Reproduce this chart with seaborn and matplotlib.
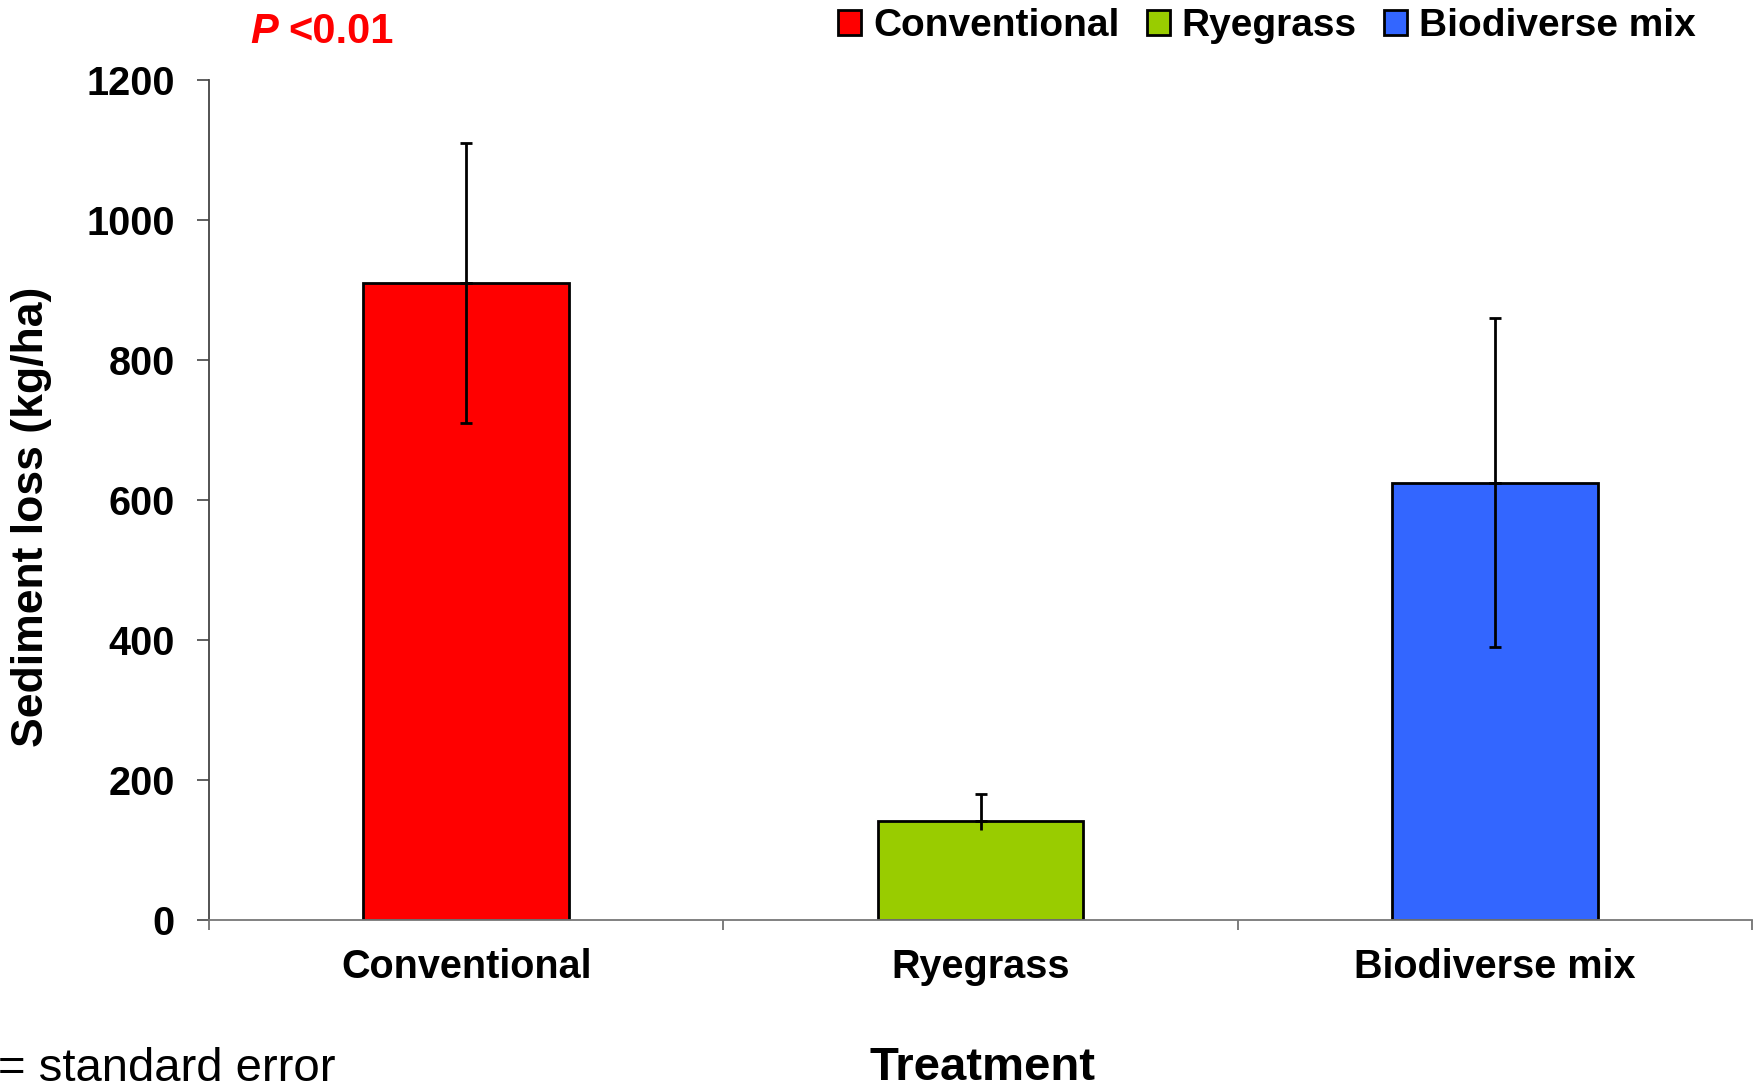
import matplotlib
matplotlib.use("Agg")
import matplotlib.pyplot as plt
from matplotlib.patches import Patch
import seaborn as sns
import pandas as pd

# Sediment loss by treatment (kg/ha) with standard errors
treatments = ["Conventional", "Ryegrass", "Biodiverse mix"]
sediment_loss = [910, 141, 625]
se_upper = [200, 39, 235]
se_lower = [200, 12, 235]
lower_cap = [True, False, True]
bar_colors = ["#FF0000", "#99CC00", "#3366FF"]
y_ticks = [0, 200, 400, 600, 800, 1000, 1200]

df = pd.DataFrame({"Treatment": treatments, "Sediment loss": sediment_loss})

sns.set_style("white")
plt.rcParams["font.family"] = ["Liberation Sans", "DejaVu Sans"]
plt.rcParams.update({"text.color": "black", "axes.labelcolor": "black",
                     "xtick.color": "black", "ytick.color": "black"})

W, H = 1763, 1087
fig = plt.figure(figsize=(W / 100, H / 100), dpi=100)
ax = fig.add_axes([209 / W, 1 - 920 / H, 1543 / W, 840 / H])

palette = dict(zip(treatments, bar_colors))
sns.barplot(data=df, x="Treatment", y="Sediment loss", hue="Treatment",
            palette=palette, order=treatments, hue_order=treatments,
            width=0.4, edgecolor="black", linewidth=2, saturation=1,
            errorbar=None, legend=False, dodge=False, ax=ax)

# error bars: upper arm with cap, lower arm capped where shown
for i, (m, up, lo, cap) in enumerate(zip(sediment_loss, se_upper, se_lower, lower_cap)):
    ax.errorbar([i], [m], yerr=[[0], [up]], fmt="none", ecolor="black",
                elinewidth=2, capsize=4.5, capthick=2, zorder=5)
    ax.errorbar([i], [m], yerr=[[lo], [0]], fmt="none", ecolor="black",
                elinewidth=2, capsize=4.5 if cap else 0, capthick=2, zorder=5)

ax.set_xlim(-0.5, 2.5)
ax.set_ylim(0, 1200)
ax.set_yticks(y_ticks)
ax.set_xticks(range(len(treatments)))
ax.set_xticklabels(treatments, fontsize=28.5, fontweight="bold", color="black")
ax.set_xticks([-0.5, 0.5, 1.5, 2.5], minor=True)
ax.tick_params(axis="x", which="major", length=0, pad=20, labelcolor="black")
ax.tick_params(axis="x", which="minor", length=7, width=1.2, color="#666666",
               direction="out", bottom=True)
ax.tick_params(axis="y", which="major", length=8.5, width=1.2, color="#444444",
               direction="out", left=True, pad=16, labelsize=28.5,
               labelcolor="black")
for lab in ax.get_yticklabels():
    lab.set_fontweight("bold")
ax.set_xlabel("")
ax.set_ylabel("")

for side in ["top", "right"]:
    ax.spines[side].set_visible(False)
ax.spines["left"].set_color("#444444")
ax.spines["left"].set_linewidth(1.3)
ax.spines["bottom"].set_color("#777777")
ax.spines["bottom"].set_linewidth(1.3)

fig.text(32 / W, 1 - 517 / H, "Sediment loss (kg/ha)", rotation=90,
         ha="center", va="center", fontsize=32, fontweight="bold", color="black")
fig.text(982 / W, 1 - 1080 / H, "Treatment", ha="center", va="baseline",
         fontsize=34, fontweight="bold", color="black")
fig.text(-2 / W, 1 - 1081 / H, "= standard error", ha="left", va="baseline",
         fontsize=34, color="black")

fig.text(250 / W, 1 - 43 / H, "P", ha="left", va="baseline", fontsize=30,
         fontweight="bold", fontstyle="italic", color="#FF0000")
fig.text(288 / W, 1 - 43 / H, "<0.01", ha="left", va="baseline", fontsize=30,
         fontweight="bold", color="#FF0000")

handles = [Patch(facecolor=c, edgecolor="black", linewidth=2) for c in bar_colors]
leg = fig.legend(handles, treatments, loc="center left",
                 bbox_to_anchor=(838 / W, 1 - 26 / H), ncol=3, frameon=False,
                 handlelength=0.6, handleheight=0.6, handletextpad=0.3,
                 columnspacing=0.7, borderpad=0, borderaxespad=0,
                 prop={"size": 28, "weight": "bold"})
for t in leg.get_texts():
    t.set_color("black")

fig.savefig("out.png", dpi=100)
